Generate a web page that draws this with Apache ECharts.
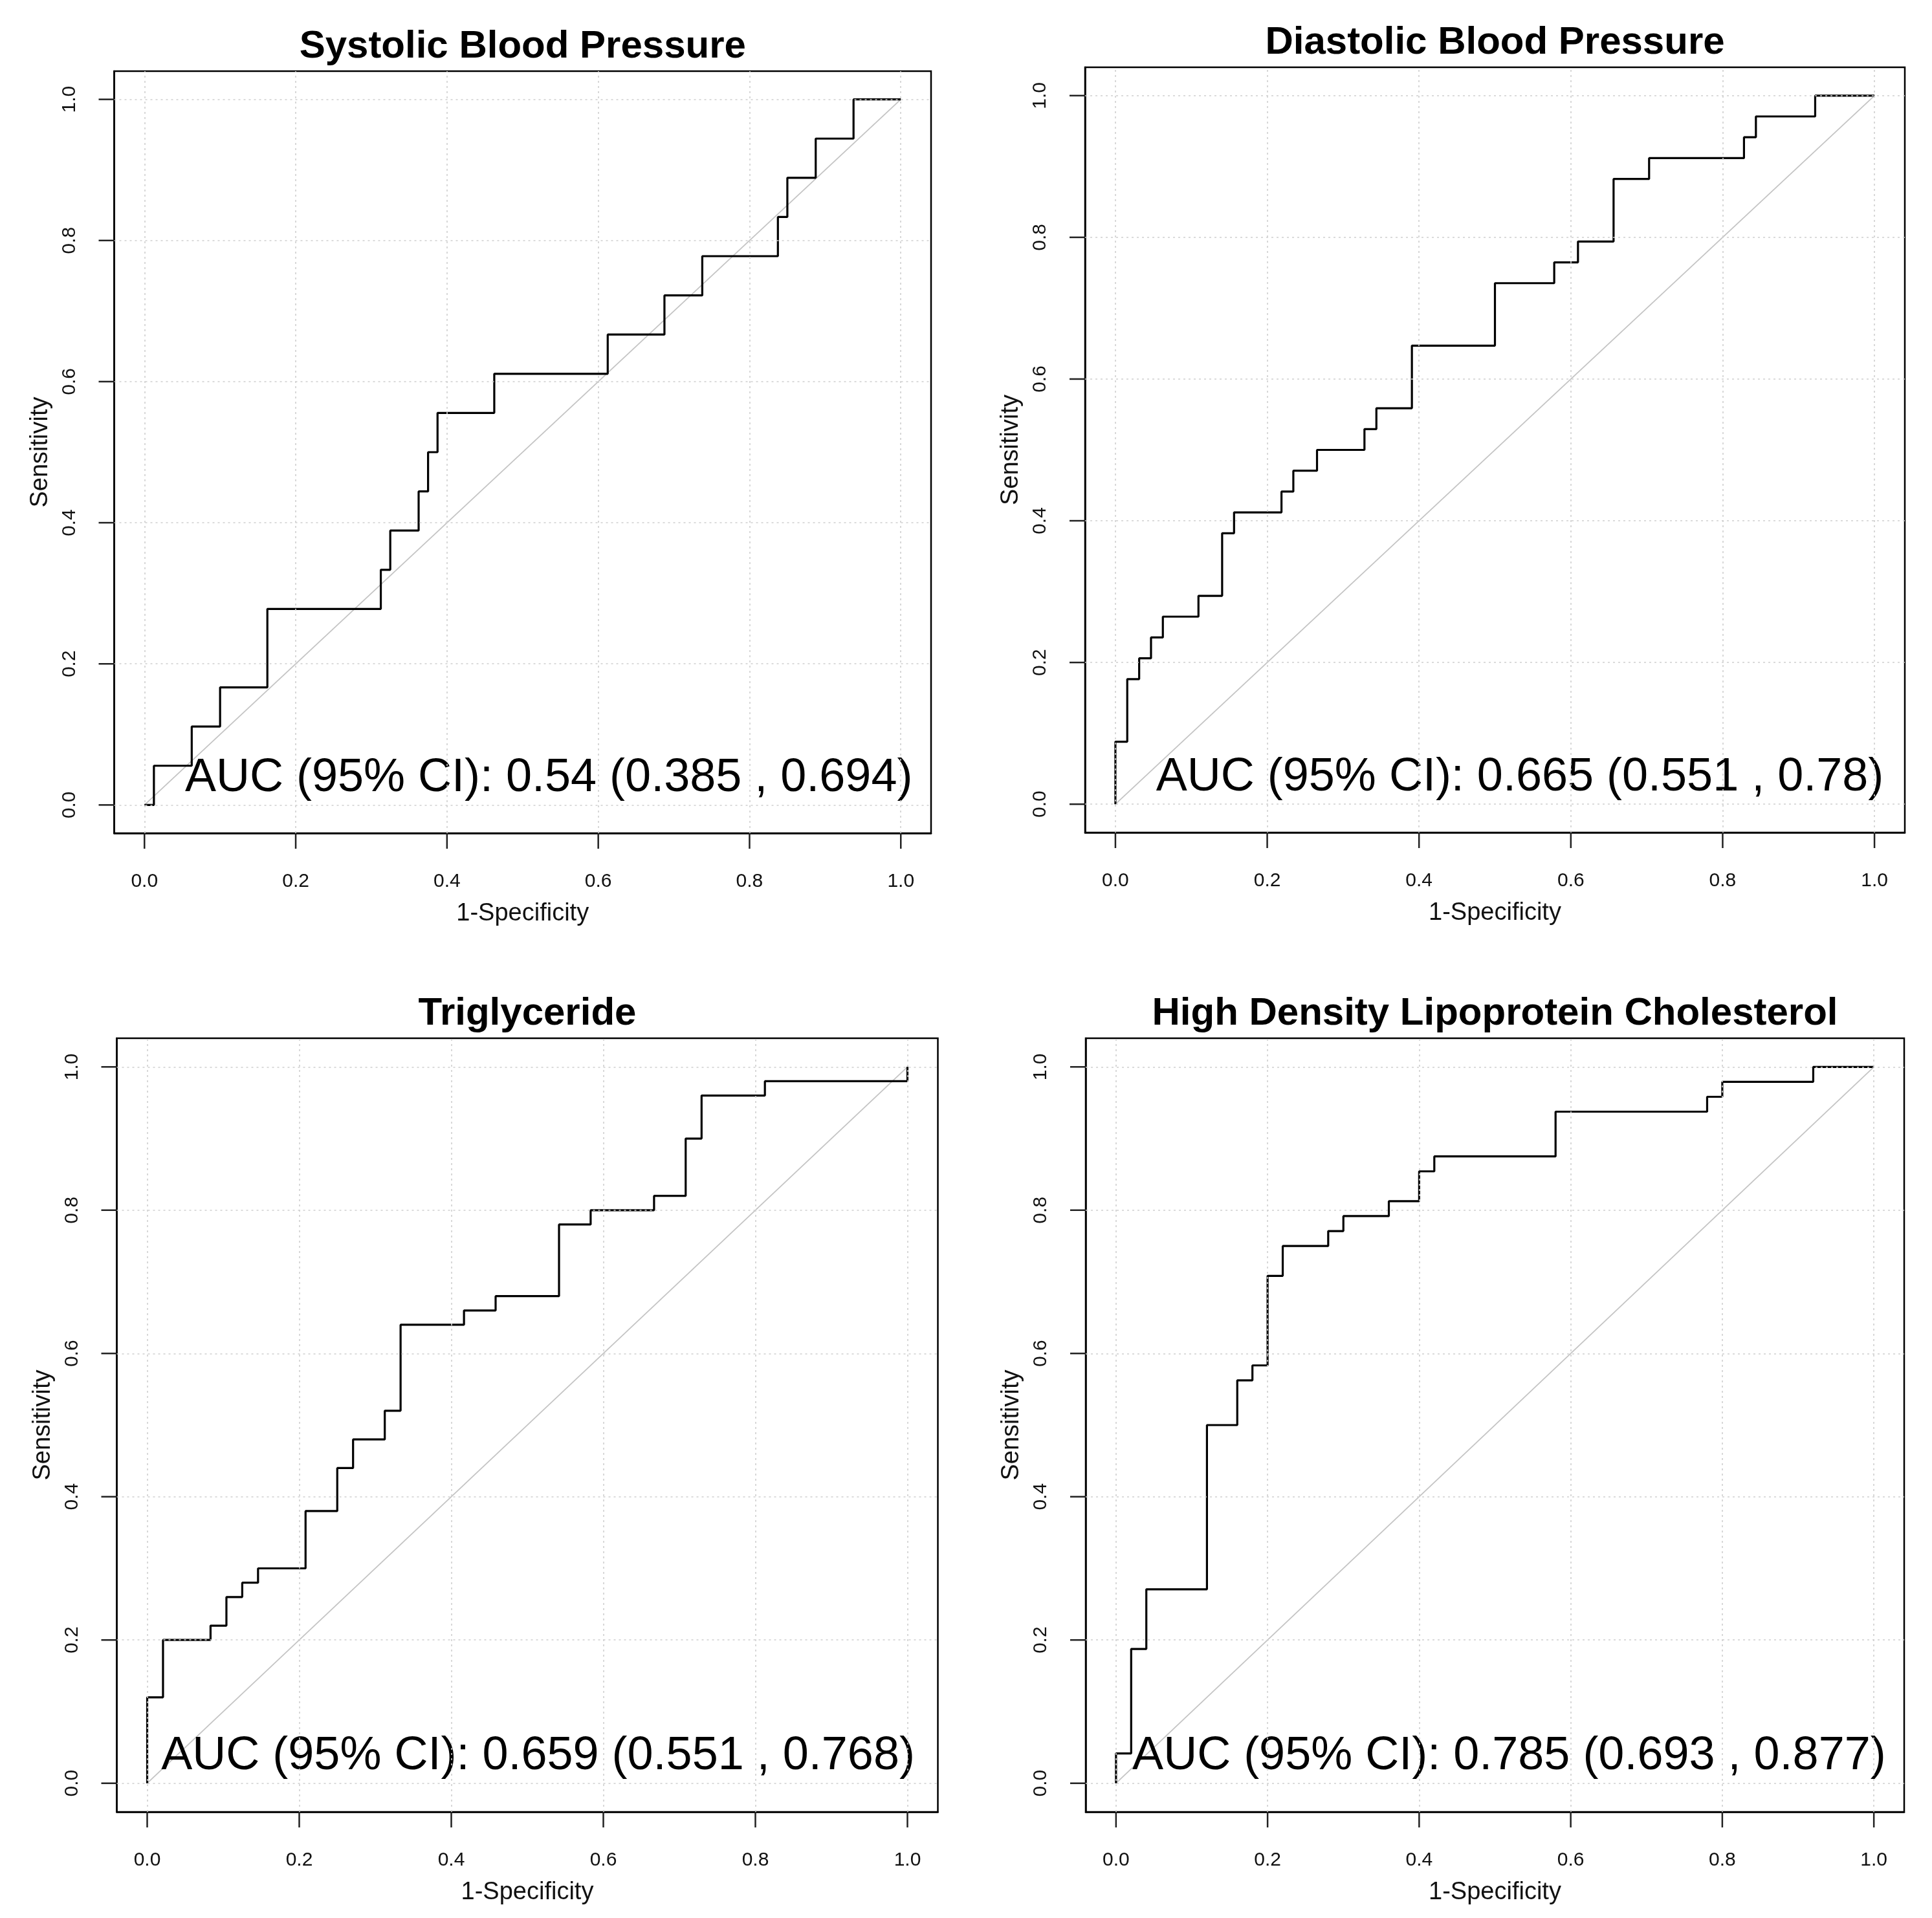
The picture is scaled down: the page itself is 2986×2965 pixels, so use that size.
<!DOCTYPE html>
<html>
<head>
<meta charset="utf-8">
<script src="https://cdn.jsdelivr.net/npm/echarts@6/dist/echarts.min.js"></script>
<style>
  html, body { margin: 0; padding: 0; background: #ffffff; }
  #chart { width: 2986px; height: 2965px; }
</style>
</head>
<body>
<div id="chart"></div>
<script>
// ---------------- data ----------------
const panelTitles = ['Systolic Blood Pressure', 'Diastolic Blood Pressure', 'Triglyceride', 'High Density Lipoprotein Cholesterol'];
const aucLabels = [
  'AUC (95% CI): 0.54 (0.385 , 0.694)',
  'AUC (95% CI): 0.665 (0.551 , 0.78)',
  'AUC (95% CI): 0.659 (0.551 , 0.768)',
  'AUC (95% CI): 0.785 (0.693 , 0.877)'
];
const xAxisTitle = '1-Specificity';
const yAxisTitle = 'Sensitivity';
const tickValues = [0, 0.2, 0.4, 0.6, 0.8, 1.0];
const tickLabels = ['0.0', '0.2', '0.4', '0.6', '0.8', '1.0'];
const diagX = [0, 1];
const diagY = [0, 1];

// ROC step corners (1-specificity, sensitivity) after each vertical jump
const fprSBP = [0, 0.0125, 0.0625, 0.1, 0.1625, 0.3125, 0.325, 0.3625, 0.375, 0.3875, 0.4625, 0.6125, 0.6875, 0.7375, 0.8375, 0.85, 0.8875, 0.9375, 1.0];
const tprSBP = [0, 0.0556, 0.1111, 0.1667, 0.2778, 0.3333, 0.3889, 0.4444, 0.5, 0.5556, 0.6111, 0.6667, 0.7222, 0.7778, 0.8333, 0.8889, 0.9444, 1.0, 1.0];

const fprDBP = [0, 0, 0.0156, 0.0313, 0.0469, 0.0625, 0.1094, 0.1406, 0.1563, 0.2188, 0.2344, 0.2656, 0.3281, 0.3438, 0.3906, 0.5, 0.5781, 0.6094, 0.6563, 0.7031, 0.8281, 0.8438, 0.9219, 1.0];
const tprDBP = [0, 0.0882, 0.1765, 0.2059, 0.2353, 0.2647, 0.2941, 0.3824, 0.4118, 0.4412, 0.4706, 0.5, 0.5294, 0.5588, 0.6471, 0.7353, 0.7647, 0.7941, 0.8824, 0.9118, 0.9412, 0.9706, 1.0, 1.0];

const fprTG = [0, 0, 0.0208, 0.0833, 0.1042, 0.125, 0.1458, 0.2083, 0.25, 0.2708, 0.3125, 0.3333, 0.4167, 0.4583, 0.5417, 0.5833, 0.6667, 0.7083, 0.7292, 0.8125, 1.0];
const tprTG = [0, 0.12, 0.2, 0.22, 0.26, 0.28, 0.3, 0.38, 0.44, 0.48, 0.52, 0.64, 0.66, 0.68, 0.78, 0.8, 0.82, 0.9, 0.96, 0.98, 1.0];

const fprHDL = [0, 0, 0.02, 0.04, 0.12, 0.16, 0.18, 0.2, 0.22, 0.28, 0.3, 0.36, 0.4, 0.42, 0.58, 0.78, 0.8, 0.92, 1.0];
const tprHDL = [0, 0.0417, 0.1875, 0.2708, 0.5, 0.5625, 0.5833, 0.7083, 0.75, 0.7708, 0.7917, 0.8125, 0.8542, 0.875, 0.9375, 0.9583, 0.9792, 1.0, 1.0];

const rocX = [fprSBP, fprDBP, fprTG, fprHDL];
const rocY = [tprSBP, tprDBP, tprTG, tprHDL];

// ---------------- layout (pixels) ----------------
const layout = [
  { left: 176.5, top: 110, width: 1262.5, height: 1178, titleTop: 42, aucX: 0.054 },
  { left: 1677,  top: 104, width: 1267,   height: 1183, titleTop: 36, aucX: 0.054 },
  { left: 180.5, top: 1605, width: 1269,  height: 1196, titleTop: 1537, aucX: 0.019 },
  { left: 1678,  top: 1605, width: 1265,  height: 1196, titleTop: 1537, aucX: 0.022 }
];
const aucY = 0.037;
const TICK_LEN = 24;
const FONT = 'Liberation Sans, Arial, sans-serif';

function stepPoints(xs, ys) {
  const pts = [[xs[0], ys[0]]];
  for (let i = 1; i < xs.length; i++) {
    pts.push([xs[i], ys[i - 1]]);
    pts.push([xs[i], ys[i]]);
  }
  return pts;
}
function linePoints(xs, ys) {
  return xs.map((x, i) => [x, ys[i]]);
}
function tickFmt(v) {
  const idx = tickValues.findIndex(t => Math.abs(t - v) < 1e-9);
  return idx >= 0 ? tickLabels[idx] : '';
}

const grids = [], xAxes = [], yAxes = [], titles = [], series = [];
layout.forEach((L, k) => {
  grids.push({
    left: L.left, top: L.top, width: L.width, height: L.height,
    show: true, borderColor: '#000', borderWidth: 2.5, backgroundColor: 'transparent'
  });
  titles.push({
    text: panelTitles[k],
    left: L.left + L.width / 2, top: L.titleTop, textAlign: 'center', padding: 0,
    textStyle: { fontFamily: FONT, fontSize: 60, fontWeight: 'bold', color: '#000' }
  });
  xAxes.push({
    type: 'value', gridIndex: k, min: -0.04, max: 1.04, position: 'bottom',
    axisLine: { show: true, onZero: false, lineStyle: { color: '#000', width: 2.5 } },
    axisTick: { show: false },
    axisLabel: { show: true, customValues: tickValues, formatter: tickFmt, margin: 60, fontFamily: FONT, fontSize: 30, color: '#111' },
    splitLine: { show: false },
    name: xAxisTitle, nameLocation: 'middle', nameGap: 106,
    nameTextStyle: { fontFamily: FONT, fontSize: 38, color: '#111' }
  });
  yAxes.push({
    type: 'value', gridIndex: k, min: -0.04, max: 1.04, position: 'left',
    axisLine: { show: true, onZero: false, lineStyle: { color: '#000', width: 2.5 } },
    axisTick: { show: false },
    axisLabel: { show: true, customValues: tickValues, formatter: tickFmt, margin: 54, rotate: 90, fontFamily: FONT, fontSize: 30, color: '#111' },
    splitLine: { show: false },
    name: yAxisTitle, nameLocation: 'middle', nameGap: 95,
    nameTextStyle: { fontFamily: FONT, fontSize: 38, color: '#111' }
  });
  series.push({
    type: 'line', xAxisIndex: k, yAxisIndex: k, z: 2,
    data: linePoints(diagX, diagY), symbol: 'none', silent: true,
    lineStyle: { color: '#c4c4c4', width: 1.8 },
    markLine: {
      silent: true, symbol: ['none', 'none'], label: { show: false },
      lineStyle: { color: '#cfcfcf', width: 1.6, type: [3, 5] },
      emphasis: { disabled: true },
      data: tickValues.map(v => ({ xAxis: v })).concat(tickValues.map(v => ({ yAxis: v })))
    }
  });
  series.push({
    type: 'line', xAxisIndex: k, yAxisIndex: k, z: 3,
    data: stepPoints(rocX[k], rocY[k]), symbol: 'none', silent: true,
    lineStyle: { color: '#000', width: 3.2 }
  });
  series.push({
    type: 'scatter', xAxisIndex: k, yAxisIndex: k, z: 4,
    data: [[L.aucX, aucY]], symbol: 'circle', symbolSize: 1, silent: true,
    itemStyle: { color: 'rgba(255,255,255,0)', opacity: 1 },
    label: {
      show: true, position: [0, 0], align: 'left', verticalAlign: 'middle',
      formatter: () => aucLabels[k],
      fontFamily: FONT, fontSize: 72, color: '#000'
    }
  });
});

const chart = echarts.init(document.getElementById('chart'), null, { renderer: 'canvas' });
chart.setOption({
  animation: false,
  backgroundColor: '#ffffff',
  title: titles,
  grid: grids,
  xAxis: xAxes,
  yAxis: yAxes,
  series: series
});

// outward tick marks, positioned through each axis' own scale
const tickEls = [];
layout.forEach((L, k) => {
  const bottom = L.top + L.height;
  tickValues.forEach(v => {
    const px = chart.convertToPixel({ xAxisIndex: k }, v);
    const py = chart.convertToPixel({ yAxisIndex: k }, v);
    tickEls.push({ type: 'line', silent: true, z: 100,
      shape: { x1: px, y1: bottom, x2: px, y2: bottom + TICK_LEN },
      style: { stroke: '#222', lineWidth: 2.5 } });
    tickEls.push({ type: 'line', silent: true, z: 100,
      shape: { x1: L.left, y1: py, x2: L.left - TICK_LEN, y2: py },
      style: { stroke: '#222', lineWidth: 2.5 } });
  });
});
chart.setOption({ graphic: { elements: tickEls } });
</script>
</body>
</html>
